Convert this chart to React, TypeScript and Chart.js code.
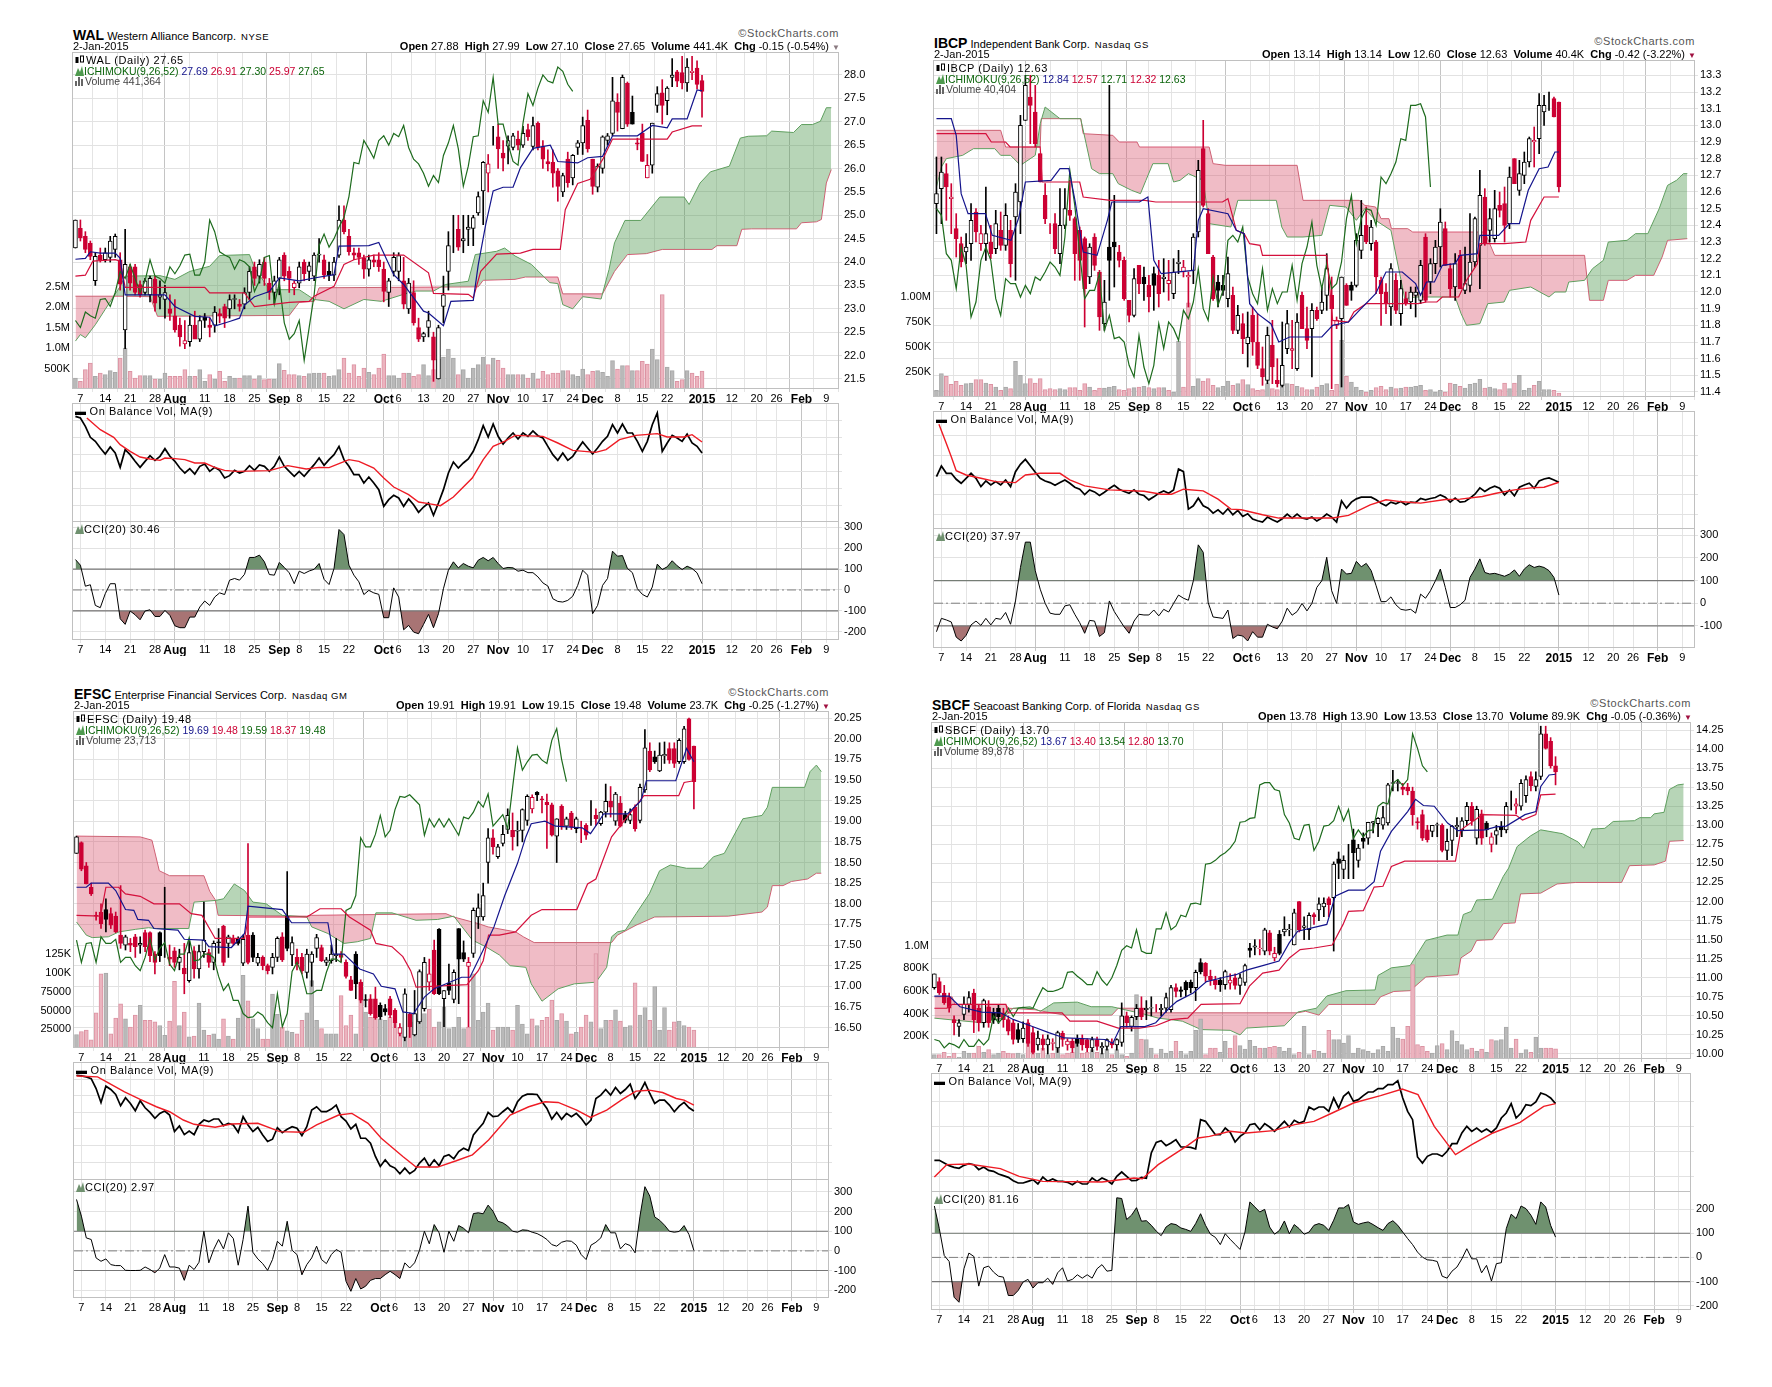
import { useEffect, useRef } from 'react';
import { Chart, registerables } from 'chart.js';

Chart.register(...registerables);

const FONT = '"Liberation Sans", Arial, sans-serif';

const dayTicks = [0, 5, 10, 15, 19, 25, 30, 35, 40, 44, 49, 54, 61, 64, 69, 74, 79, 84, 89, 94, 99, 103, 108, 113, 118, 125, 131, 136, 140, 145, 150];
const dayLabels = ['7', '14', '21', '28', 'Aug', '11', '18', '25', 'Sep', '8', '15', '22', 'Oct', '6', '13', '20', '27', 'Nov', '10', '17', '24', 'Dec', '8', '15', '22', '2015', '12', '20', '26', 'Feb', '9'];
const majorDays = [19, 40, 61, 84, 103, 125, 145];

// ohlc rows: first is 3 Jul 2014 (day -1), last is 2 Jan 2015 (day 125). Volume in thousands.
const walOhlc = [
  [24.3, 24.9, 24.3, 24.9], [24.72, 24.9, 24.45, 24.52], [24.55, 24.65, 24.2, 24.27], [24.4, 24.45, 24.05, 24.12], [23.6, 24.2, 23.5, 24.12], [24.15, 24.3, 24, 24.05], [24.05, 24.3, 24, 24.2], [24.1, 24.55, 24, 24.45], [24.27, 24.6, 24.1, 24.55], [24.05, 24.2, 23.4, 23.53],
  [22.55, 24.7, 22.15, 23.95], [23.9, 23.95, 23.4, 23.55], [23.9, 23.95, 23.3, 23.35], [23.52, 23.6, 23.25, 23.3], [23.35, 23.65, 23.3, 23.6], [23.3, 23.7, 23.15, 23.65], [23.63, 23.7, 22.95, 23.12], [23.25, 23.6, 23, 23.3], [23.2, 23.5, 22.8, 23.35], [23, 23.3, 22.75, 22.9],
  [22.85, 23.2, 22.5, 22.55], [22.65, 22.8, 22.2, 22.4], [22.25, 22.75, 22.15, 22.32], [22.3, 22.85, 22.2, 22.65], [22.65, 22.95, 22.4, 22.35], [22.35, 22.85, 22.3, 22.75], [22.82, 22.9, 22.6, 22.75], [22.65, 22.8, 22.4, 22.6], [22.65, 23.05, 22.5, 22.93], [22.9, 23, 22.7, 22.85],
  [23.05, 23.1, 22.6, 22.8], [23, 23.3, 22.8, 23.2], [23.2, 23.3, 23, 23.22], [23.1, 23.2, 22.95, 23.05], [23.1, 23.45, 23, 23.35], [23.35, 23.9, 23.2, 23.8], [23.9, 24, 23.5, 23.65], [23.7, 24.05, 23.55, 23.95], [24, 24.1, 23.5, 23.65], [23.55, 23.65, 23.2, 23.35],
  [23.35, 23.7, 23.1, 23.6], [23.65, 24.1, 23.3, 24.05], [24.15, 24.2, 23.6, 23.7], [23.8, 23.9, 23.35, 23.65], [23.45, 23.6, 23.3, 23.55], [23.55, 24, 23.45, 23.9], [24, 24.05, 23.6, 23.75], [23.8, 24, 23.6, 23.92], [23.7, 24.2, 23.6, 24.15], [24.15, 24.5, 24, 24.17],
  [24.05, 24.15, 23.65, 23.72], [23.8, 24, 23.6, 23.72], [23.72, 24.1, 23.6, 24], [24.15, 25.2, 24.1, 24.9], [24.9, 25.2, 24.6, 24.65], [24.55, 24.7, 24.15, 24.22], [24.2, 24.3, 24.05, 24.15], [24.2, 24.3, 23.95, 24.1], [24.08, 24.15, 23.65, 23.85], [23.85, 24.15, 23.7, 24.05],
  [24.05, 24.15, 23.9, 24], [24.05, 24.2, 23.8, 23.9], [23.85, 24, 23.15, 23.37], [23.35, 23.65, 23.05, 23.6], [23.8, 24.2, 23.7, 24.1], [23.8, 24.2, 23.6, 24.14], [23.6, 24.1, 23, 23.1], [23, 23.65, 22.9, 23.55], [23.35, 23.6, 22.65, 22.7], [22.6, 22.8, 22.3, 22.35],
  [22.4, 22.5, 22.3, 22.47], [22.6, 22.95, 22.4, 22.75], [22.4, 22.5, 21.45, 21.9], [21.5, 22.65, 21.5, 22.6], [23.05, 23.7, 22.7, 23.3], [23.8, 24.65, 23.4, 24.35], [24.6, 25, 24.2, 24.6], [24.7, 25, 24.25, 24.32], [24.45, 25, 24.2, 24.5], [24.7, 25, 24.35, 24.75],
  [24.72, 25, 24.35, 24.95], [25.05, 25.5, 25, 25.4], [25.52, 26.15, 24.8, 26.13], [25.9, 26.3, 25.5, 26.1], [26.6, 26.9, 26.5, 26.6], [26.68, 26.95, 26, 26.42], [26.33, 26.6, 25.95, 26.22], [26.48, 26.7, 26.1, 26.6], [26.45, 26.75, 26.4, 26.7], [26.63, 26.8, 26.4, 26.5],
  [26.5, 26.9, 26.45, 26.75], [26.83, 26.95, 26.6, 26.68], [26.47, 27.1, 26.4, 26.92], [26.97, 27, 26.4, 26.45], [26.47, 26.6, 26, 26.2], [26.15, 26.4, 25.95, 26.1], [26.13, 26.4, 25.6, 25.9], [25.95, 26, 25.3, 25.62], [25.5, 25.9, 25.4, 25.85], [26.2, 26.35, 25.6, 25.7],
  [25.8, 26.3, 25.65, 26.28], [26.45, 26.6, 26.3, 26.55], [26.55, 27.1, 26.3, 26.92], [27.03, 27.25, 26.35, 26.42], [26.2, 26.2, 25.45, 25.62], [25.6, 26.1, 25.5, 26.05], [26, 26.7, 25.9, 26.68], [26.6, 26.75, 26.5, 26.7], [26.75, 27.95, 26.7, 27.45], [27.42, 27.6, 26.8, 27.2],
  [26.85, 28, 26.85, 27.95], [27.82, 27.85, 26.9, 26.95], [27.2, 27.55, 26.95, 26.95], [26.55, 26.65, 26.4, 26.52], [26.75, 26.95, 26.15, 26.15], [25.8, 26.3, 25.8, 26.07], [26.07, 26.97, 25.9, 26.97], [27.35, 27.75, 27.2, 27.6], [27.62, 27.9, 26.95, 27.35], [27.45, 27.75, 27.15, 27.72],
  [27.95, 28.35, 27.75, 28], [28.07, 28.1, 27.75, 27.87], [28.05, 28.4, 27.7, 27.83], [27.83, 28.35, 27.65, 28.17], [28.05, 28.4, 27.9, 28.08], [28.15, 28.3, 27.7, 27.8], [27.88, 27.99, 27.1, 27.65],
];
const walVolume = [270, 188, 474, 637, 310, 392, 351, 450, 409, 760, 1000, 433, 270, 327, 327, 327, 245, 245, 392, 310, 310, 310, 474, 310, 310, 474, 188, 351, 245, 433, 188, 310, 270, 270, 327, 327, 245, 327, 229, 245, 245, 621, 457, 351, 351, 327, 310, 376, 392, 392, 392, 310, 327, 474, 760, 392, 597, 310, 515, 409, 351, 515, 858, 327, 327, 270, 392, 392, 310, 351, 597, 327, 474, 736, 785, 981, 760, 351, 474, 270, 515, 597, 785, 597, 760, 703, 515, 351, 351, 351, 351, 270, 392, 245, 433, 351, 392, 392, 450, 450, 351, 310, 490, 351, 433, 450, 409, 310, 694, 490, 572, 572, 450, 450, 678, 613, 981, 719, 2312, 539, 450, 188, 229, 450, 392, 310, 441];
const walTenkan = [[-1, 24.06], [1, 24.08], [2, 24.22], [4, 24.19], [7, 24.19], [8, 24.08], [9, 23.3], [17, 23.3], [19, 23.05], [23, 22.84], [26, 22.82], [27, 22.63], [30, 22.73], [32, 22.8], [33, 23.08], [35, 23.26], [38, 23.37], [40, 23.66], [44, 23.6], [47, 23.66], [51, 23.73], [52, 24.34], [58, 24.35], [60, 24.42], [61, 24.19], [63, 23.73], [65, 23.52], [69, 22.95], [70, 22.91], [73, 22.64], [74.5, 23.16], [79, 23.18], [80, 23.94], [81.5, 24.8], [83, 25.52], [85, 25.6], [87, 25.6], [88.5, 26.02], [91, 26.43], [94.5, 26.5], [96, 26.15], [100, 26.12], [102, 26.23], [105, 26.26], [107, 26.7], [112, 26.7], [115, 26.92], [118, 26.87], [119, 27.06], [122, 27.06], [124, 27.68], [125, 27.66]];
const walKijun = [[-1, 23.7], [1, 23.72], [2.5, 24.02], [7, 24.05], [8, 24.02], [9, 23.46], [25, 23.46], [26, 23.34], [33, 23.34], [35, 23.05], [42, 23.14], [46, 23.16], [47, 23.27], [51, 23.48], [53, 23.95], [55, 24.05], [59, 24.15], [65, 24.15], [70, 23.77], [71, 23.33], [78, 23.31], [79, 23.23], [80.5, 23.8], [83.7, 24.17], [88.5, 24.19], [91, 24.27], [96.5, 24.27], [97.5, 25.12], [100, 25.68], [102.5, 25.77], [105, 26.19], [107, 26.63], [118, 26.63], [119, 26.78], [123, 26.91], [125, 26.91]];
const walSenkouA = [[-1, 22.31], [0, 22.45], [1, 22.38], [3, 22.66], [5, 22.99], [8, 23.48], [9, 23.7], [16, 23.71], [19, 23.63], [22, 23.8], [26, 23.91], [28, 24.14], [34, 24.16], [35, 23.88], [38, 23.41], [44, 23.41], [47, 23.2], [50, 23.16], [53, 23], [57, 23.2], [60.5, 23.16], [65, 23.31], [67.5, 23.38], [71, 23.38], [73.4, 23.52], [78, 23.59], [79.4, 24.16], [83.7, 24.23], [85.3, 24.3], [87.4, 24.13], [90.7, 23.95], [94.4, 23.56], [96, 23.54], [97, 23.09], [99, 23], [101, 23.26], [104.7, 23.21], [106.3, 23.84], [107.4, 24.41], [109.5, 24.89], [112.7, 24.89], [116.5, 25.39], [121.4, 25.39], [122.4, 25.23], [124.6, 25.69], [126.7, 25.93], [130.5, 26.05], [132.7, 26.65], [134.3, 26.69], [138, 26.7], [139, 26.8], [143.4, 26.77], [145, 26.94], [147.2, 26.94], [148.8, 27.01], [150, 27.3], [151, 27.3]];
const walSenkouB = [[-1, 23.27], [9, 23.27], [14, 23.26], [15.5, 22.84], [42, 22.86], [44, 23.14], [47, 23.16], [48, 23.45], [80, 23.47], [81, 23.61], [87.4, 23.63], [89.5, 23.68], [96, 23.68], [97, 23.32], [105, 23.32], [107.4, 23.8], [110, 24.16], [113.8, 24.18], [117, 24.27], [127, 24.27], [128, 24.35], [132, 24.35], [133, 24.7], [135, 24.71], [144, 24.71], [145, 24.84], [148, 24.86], [149, 24.91], [150, 25.69], [151, 25.98]];
const walObv = [317, 312, 287, 254, 242, 222, 204, 225, 207, 164, 217, 202, 182, 164, 182, 199, 185, 197, 220, 197, 182, 162, 147, 160, 144, 167, 174, 152, 164, 155, 132, 139, 155, 147, 152, 169, 155, 171, 167, 152, 167, 195, 167, 152, 137, 152, 137, 155, 172, 192, 170, 187, 202, 227, 187, 167, 142, 142, 117, 135, 117, 97, 47, 67, 80, 72, 47, 69, 52, 29, 45, 57, 20, 57, 97, 147, 180, 162, 177, 189, 212, 247, 289, 255, 294, 257, 234, 252, 267, 249, 267, 257, 273, 259, 252, 227, 202, 185, 207, 185, 197, 219, 240, 222, 204, 222, 242, 257, 292, 267, 294, 267, 267, 242, 212, 242, 292, 327, 212, 237, 260, 252, 242, 264, 237, 227, 207];
const walObvMa = [[1.3, 312], [4, 277], [6.7, 254], [8, 232], [10, 212], [12, 195], [14, 189], [16, 185], [17, 192], [19, 190], [21, 187], [23, 177], [25, 177], [27, 164], [29, 155], [31.4, 152], [38, 154], [41.7, 169], [45.4, 159], [48, 164], [50, 163], [52, 175], [54, 187], [56, 182], [59, 162], [61, 132], [63, 105], [66, 82], [68, 60], [70, 55], [72.4, 49], [75, 75], [78.8, 132], [81, 187], [83, 227], [85.3, 242], [87.4, 260], [93, 257], [96, 237], [99, 215], [103.6, 209], [105.7, 217], [108.4, 247], [111.7, 260], [116, 265], [118, 255], [121.4, 255], [123, 262], [125, 240]];
const walCci = [146, 119, 18, 25, -74, -85, -18, 30, 30, -138, -165, -101, -119, -143, -101, -95, -127, -127, -98, -122, -172, -181, -181, -130, -130, -82, -53, -74, -34, -14, -22, 47, 55, 47, 75, 156, 156, 167, 135, 74, 71, 132, 108, 82, 30, 90, 79, 91, 99, 127, 51, 26, 103, 290, 266, 119, 71, 39, -22, -2, -14, -21, -133, -133, 10, -34, -191, -170, -202, -210, -165, -117, -181, -114, 6, 95, 135, 106, 127, 114, 106, 143, 156, 140, 156, 127, 103, 108, 106, 90, 95, 83, 83, 63, 34, 19, -42, -55, -58, -50, -30, 22, 95, 71, -114, -74, 22, 55, 186, 162, 165, 103, 83, 6, -21, -34, 14, 124, 98, 111, 140, 116, 98, 114, 103, 82, 30];
const walPriceTicks = [21.5, 22, 22.5, 23, 23.5, 24, 24.5, 25, 25.5, 26, 26.5, 27, 27.5, 28];
const walVolTicks = [500, 1000, 1500, 2000, 2500];
const walVolLabels = ['500K', '1.0M', '1.5M', '2.0M', '2.5M'];
const walObvGrid = [51, 102, 153, 204, 254, 305];
const walCciTicks = [-200, -100, 0, 100, 200, 300];

const ibcpOhlc = [
  [12.53, 12.81, 12.35, 12.59], [12.62, 12.81, 12.41, 12.72], [12.71, 12.77, 12.43, 12.63], [12.56, 12.65, 12.35, 12.57], [12.38, 12.47, 12.21, 12.32], [12.29, 12.33, 12.15, 12.18], [12.24, 12.35, 12.17, 12.27], [12.29, 12.53, 12.19, 12.43], [12.48, 12.5, 12.3, 12.36], [12.29, 12.4, 12.25, 12.35],
  [12.29, 12.63, 12.19, 12.35], [12.3, 12.4, 12.2, 12.23], [12.26, 12.49, 12.23, 12.41], [12.37, 12.48, 12.25, 12.28], [12.28, 12.53, 12.25, 12.46], [12.37, 12.43, 12.09, 12.17], [12.45, 12.65, 12.07, 12.6], [12.54, 13.06, 12.35, 13], [13.03, 13.3, 13.03, 13.24], [13.17, 13.3, 12.89, 13.12],
  [13.08, 13.24, 12.87, 12.89], [12.83, 12.83, 12.66, 12.66], [12.58, 12.65, 12.41, 12.44], [12.38, 12.41, 12.35, 12.38], [12.41, 12.47, 12.23, 12.26], [12.23, 12.62, 12.17, 12.4], [12.4, 12.62, 12.38, 12.5], [12.49, 12.67, 12.43, 12.46], [12.44, 12.45, 12.07, 12.23], [12.37, 12.39, 12.07, 12.19],
  [12.32, 12.33, 11.79, 12.02], [12.09, 12.29, 12.05, 12.27], [12.33, 12.35, 12.13, 12.16], [12.12, 12.13, 11.77, 11.85], [11.81, 12.07, 11.77, 11.94], [12.27, 13.24, 11.95, 12.19], [12.3, 12.58, 12.03, 12.27], [12.24, 12.28, 12.15, 12.19], [12.19, 12.21, 11.95, 11.96], [11.95, 11.95, 11.82, 11.86],
  [11.86, 12.14, 11.85, 12.08], [12.16, 12.16, 11.99, 12.05], [12.09, 12.15, 11.95, 12.05], [12.04, 12.1, 11.88, 11.97], [12.11, 12.15, 11.89, 12.04], [12.1, 12.19, 11.91, 11.99], [12.08, 12.2, 12, 12.09], [12.05, 12.19, 11.95, 12.07], [11.99, 12.2, 11.96, 12.12], [12.17, 12.25, 12.11, 12.18],
  [12.12, 12.19, 12.09, 12.15], [12.09, 12.12, 11.91, 12.1], [12.13, 12.35, 12.05, 12.33], [12.36, 12.79, 12.33, 12.73], [12.86, 13.03, 12.51, 12.52], [12.47, 12.5, 12.23, 12.23], [12.21, 12.22, 11.95, 11.96], [12.06, 12.1, 11.91, 12.01], [12.04, 12.1, 11.98, 12.01], [11.96, 12.21, 11.91, 12.11],
  [11.98, 12.03, 11.75, 11.77], [11.77, 11.92, 11.75, 11.86], [11.81, 11.87, 11.63, 11.72], [11.69, 11.88, 11.55, 11.73], [11.86, 11.91, 11.62, 11.7], [11.7, 11.87, 11.54, 11.56], [11.54, 11.67, 11.44, 11.49], [11.47, 11.79, 11.45, 11.74], [11.68, 11.83, 11.45, 11.55], [11.47, 11.6, 11.43, 11.45],
  [11.44, 11.82, 11.43, 11.56], [11.66, 11.89, 11.63, 11.81], [11.65, 11.83, 11.54, 11.66], [11.54, 11.87, 11.53, 11.82], [11.98, 12, 11.78, 11.78], [11.78, 11.91, 11.66, 11.71], [11.78, 11.93, 11.49, 11.89], [11.89, 11.91, 11.83, 11.84], [11.89, 12.03, 11.87, 11.94], [11.98, 12.23, 11.89, 12.14],
  [11.98, 12.09, 11.42, 11.9], [11.8, 11.85, 11.78, 11.83], [11.84, 12.09, 11.43, 12.09], [12.04, 12.05, 11.92, 11.92], [12.04, 12.06, 11.95, 12.01], [12.04, 12.35, 12.03, 12.31], [12.25, 12.55, 12.2, 12.34], [12.4, 12.51, 12.29, 12.3], [12.29, 12.43, 12.25, 12.39], [12.3, 12.31, 11.99, 12.09],
  [12.07, 12.09, 11.8, 11.99], [12, 12.05, 11.87, 11.93], [11.91, 12.17, 11.8, 12.14], [12.07, 12.11, 11.87, 11.89], [11.87, 12.07, 11.8, 12.02], [11.96, 12, 11.92, 11.93], [11.94, 12.03, 11.9, 12], [11.98, 12.03, 11.85, 12], [11.95, 12.19, 11.93, 12.16], [12.33, 12.35, 11.94, 11.95],
  [12.06, 12.2, 11.99, 12.17], [12.17, 12.31, 12.11, 12.27], [12.27, 12.5, 12.15, 12.42], [12.38, 12.42, 12.16, 12.16], [12.14, 12.17, 11.97, 12.02], [12.03, 12.23, 11.95, 12.17], [12.22, 12.25, 12.02, 12.02], [12.01, 12.27, 11.99, 12.05], [12.04, 12.47, 12, 12.18], [12.18, 12.45, 12.15, 12.44],
  [12.28, 12.73, 12.02, 12.58], [12.57, 12.62, 12.28, 12.29], [12.37, 12.5, 12.3, 12.44], [12.32, 12.61, 12.3, 12.5], [12.52, 12.6, 12.45, 12.49], [12.53, 12.63, 12.3, 12.4], [12.41, 12.75, 12.38, 12.69], [12.8, 12.8, 12.65, 12.65], [12.61, 12.79, 12.58, 12.71], [12.7, 12.84, 12.65, 12.78],
  [12.78, 12.93, 12.75, 12.92], [12.9, 12.99, 12.75, 12.91], [12.92, 13.19, 12.83, 13.12], [13.08, 13.18, 13, 13.12], [13.13, 13.2, 13.09, 13.13], [13.16, 13.17, 13.05, 13.05], [13.14, 13.14, 12.6, 12.63],
];
const ibcpVolume = [67, 233, 206, 127, 157, 117, 133, 140, 173, 173, 140, 127, 100, 67, 100, 83, 356, 216, 133, 183, 140, 183, 73, 83, 73, 83, 73, 93, 93, 67, 133, 100, 67, 90, 90, 100, 107, 73, 67, 83, 93, 100, 107, 93, 83, 93, 93, 67, 50, 556, 100, 942, 107, 183, 160, 183, 117, 93, 107, 160, 117, 133, 173, 123, 83, 67, 73, 133, 83, 73, 117, 133, 127, 107, 93, 73, 73, 100, 117, 133, 67, 127, 566, 206, 150, 100, 67, 50, 67, 93, 107, 73, 100, 83, 90, 100, 100, 107, 117, 67, 73, 50, 67, 50, 140, 127, 107, 90, 127, 140, 176, 90, 100, 83, 73, 140, 83, 140, 216, 67, 90, 117, 157, 73, 73, 67, 40];
const ibcpTenkan = [[-1, 13.04], [2, 13.04], [3, 12.94], [4, 12.59], [5.4, 12.47], [8.9, 12.47], [10.3, 12.34], [14.1, 12.31], [15.7, 12.45], [17, 12.66], [22.2, 12.67], [24, 12.74], [25.8, 12.74], [27.1, 12.54], [28.7, 12.24], [31.5, 12.22], [33.6, 12.43], [34.5, 12.54], [40.1, 12.54], [41.8, 12.57], [43, 12.19], [44.5, 12.11], [51, 12.13], [52, 12.43], [53, 12.5], [58, 12.47], [59.7, 12.37], [61.3, 12.35], [62.4, 11.93], [64, 11.87], [66.7, 11.81], [68.3, 11.7], [70.5, 11.73], [77, 11.73], [79.2, 11.8], [82.4, 11.82], [84.6, 11.89], [87.9, 11.99], [90, 12.12], [93.3, 12.12], [96, 12.05], [97, 11.98], [98.2, 12.06], [99.8, 12.06], [101.4, 12.16], [104, 12.17], [105, 12.22], [108.5, 12.23], [109, 12.34], [112.8, 12.34], [115, 12.41], [117, 12.41], [118.8, 12.61], [121, 12.74], [122.8, 12.75], [124.2, 12.84], [125, 12.84]];
const ibcpKijun = [[-1, 12.95], [9, 12.95], [10.1, 12.9], [13, 12.9], [13.9, 12.87], [20, 12.87], [20.4, 12.66], [28, 12.66], [28.7, 12.57], [34.2, 12.55], [41.2, 12.55], [43.4, 12.54], [56.9, 12.54], [58, 12.56], [59.7, 12.37], [61.3, 12.35], [62.4, 12.29], [64.5, 12.28], [65, 12.22], [78, 12.22], [79.2, 11.83], [82.4, 11.82], [83.5, 11.88], [86, 11.93], [96.5, 11.93], [98.2, 11.94], [100.3, 11.94], [101.4, 11.97], [104.7, 11.97], [106.3, 12.07], [108.5, 12.17], [109, 12.29], [113.4, 12.29], [114, 12.29], [118.3, 12.3], [119.3, 12.43], [122, 12.57], [125, 12.57]];
const ibcpSenkouA = [[-1, 12.63], [0, 12.75], [1, 12.8], [4.3, 12.82], [6.5, 12.86], [10.8, 12.86], [12, 12.82], [14, 12.82], [16, 12.76], [19, 12.82], [20, 13.01], [21, 13.11], [24, 13.04], [28.2, 13.04], [29.3, 12.89], [30.4, 12.74], [32, 12.71], [34.7, 12.71], [35.8, 12.65], [38.5, 12.61], [40.3, 12.59], [41.4, 12.67], [42.8, 12.77], [45.9, 12.77], [47, 12.66], [48.3, 12.67], [50, 12.71], [53, 12.67], [54.2, 12.41], [58.6, 12.39], [60, 12.55], [67.8, 12.55], [68.9, 12.39], [70, 12.33], [73.2, 12.33], [77, 12.34], [78.6, 12.52], [81.9, 12.51], [84, 12.43], [85.7, 12.5], [87.9, 12.43], [91, 12.37], [93.8, 11.96], [96, 11.97], [104, 11.97], [105.2, 11.87], [106.3, 11.8], [109, 11.81], [110.6, 11.93], [113.9, 11.94], [115, 12.01], [119.3, 12.03], [123, 11.97], [124.2, 12], [126.4, 12], [127, 12.06], [130.2, 12.07], [131.8, 12.14], [134, 12.19], [135, 12.3], [138.8, 12.31], [140.5, 12.35], [143, 12.35], [145.3, 12.5], [147, 12.64], [148.8, 12.67], [150.2, 12.71], [151, 12.71]];
const ibcpSenkouB = [[-1, 12.97], [12, 12.97], [13, 12.87], [20, 12.87], [20.2, 13.04], [28.2, 13.04], [28.7, 12.95], [34.7, 12.94], [36, 12.9], [39.6, 12.9], [40.1, 12.87], [54.2, 12.87], [55, 12.77], [57.5, 12.76], [72, 12.76], [73.2, 12.55], [84.6, 12.55], [85.7, 12.52], [87.9, 12.51], [89, 12.44], [90.6, 12.44], [91.1, 12.38], [94.4, 12.38], [95.4, 12.36], [110, 12.36], [112, 12.22], [130.2, 12.22], [130.7, 12.08], [131.2, 11.95], [134, 11.95], [135, 12.07], [138.8, 12.07], [140.5, 12.1], [144.2, 12.1], [145.9, 12.21], [147, 12.31], [151, 12.32]];
const ibcpObv = [158, 190, 168, 168, 150, 138, 153, 168, 153, 128, 145, 133, 143, 133, 148, 128, 173, 195, 210, 191, 171, 153, 145, 140, 132, 140, 148, 138, 126, 120, 104, 118, 112, 101, 111, 122, 132, 120, 113, 108, 118, 105, 101, 88, 97, 108, 115, 108, 118, 181, 173, 60, 70, 93, 70, 63, 48, 58, 45, 61, 43, 56, 38, 46, 30, 25, 21, 36, 28, 21, 31, 45, 33, 45, 33, 30, 36, 24, 33, 45, 36, 21, 85, 63, 81, 91, 96, 96, 96, 88, 78, 70, 81, 76, 83, 73, 81, 80, 92, 88, 92, 95, 103, 96, 81, 93, 81, 83, 93, 105, 124, 113, 123, 129, 123, 103, 118, 100, 126, 133, 138, 123, 145, 151, 154, 148, 141];
const ibcpObvMa = [[-0.5, 316], [1, 258], [2, 218], [3, 176], [5, 163], [8, 153], [11, 143], [15, 140], [17, 163], [20, 168], [24, 168], [26, 148], [29, 130], [34, 118], [41, 114], [44.5, 105], [46.6, 105], [49, 120], [53, 115], [56, 90], [58.6, 60], [60.7, 58], [65, 43], [68.3, 33], [79.2, 33], [82.4, 41], [86.8, 73], [90, 88], [93.3, 82], [97, 78], [102, 89], [105, 90], [109.5, 98], [112.3, 108], [116, 118], [119.3, 124], [122, 126], [125, 141]];
const ibcpCci = [-126, -67, -74, -83, -150, -167, -142, -96, -79, -98, -67, -96, -67, -71, -41, -93, 10, 158, 270, 270, 144, 62, 0, -44, -49, -49, -12, -7, -49, -86, -133, -76, -79, -147, -130, 10, -37, -71, -105, -133, -79, -49, -52, -52, -30, -56, -27, -39, -1, 36, 22, 13, 99, 258, 225, 3, -61, -64, -67, -30, -156, -141, -145, -167, -126, -150, -150, -93, -105, -113, -79, -22, -53, -37, -1, -34, -1, 70, 99, 203, 55, -1, 151, 129, 132, 185, 161, 176, 144, 77, 7, 7, 28, -7, -27, -31, -27, -44, 40, 22, 55, 99, 151, 70, -19, -19, -7, 13, 114, 151, 196, 136, 129, 132, 126, 119, 129, 147, 119, 151, 170, 158, 164, 158, 144, 114, 36];
const ibcpPriceTicks = [11.4, 11.5, 11.6, 11.7, 11.8, 11.9, 12, 12.1, 12.2, 12.3, 12.4, 12.5, 12.6, 12.7, 12.8, 12.9, 13, 13.1, 13.2, 13.3];
const ibcpVolTicks = [250, 500, 750, 1000];
const ibcpVolLabels = ['250K', '500K', '750K', '1.00M'];
const ibcpObvGrid = [45, 105, 162, 221, 281];
const ibcpCciTicks = [-100, 0, 100, 200, 300];

const efscOhlc = [
  [18.61, 18.82, 18.61, 18.81], [18.74, 18.75, 18.4, 18.42], [18.46, 18.5, 18.24, 18.24], [18.2, 18.25, 18.1, 18.12], [17.86, 17.9, 17.8, 17.85], [17.9, 18, 17.7, 17.76], [17.93, 18.06, 17.66, 17.81], [17.88, 17.95, 17.7, 17.74], [17.85, 17.9, 17.65, 17.66], [17.62, 18.22, 17.46, 17.52],
  [17.5, 17.62, 17.44, 17.6], [17.52, 17.58, 17.42, 17.5], [17.6, 17.63, 17.35, 17.48], [17.5, 17.6, 17.4, 17.52], [17.65, 17.68, 17.42, 17.48], [17.65, 17.66, 17.3, 17.37], [17.39, 17.42, 17.15, 17.29], [17.65, 17.66, 17.3, 17.37], [17.52, 18.2, 17.35, 17.52], [17.35, 17.5, 17.25, 17.33],
  [17.43, 17.47, 17.23, 17.29], [17.29, 17.45, 17.2, 17.35], [17.22, 17.52, 16.91, 17.15], [17.07, 17.55, 17.05, 17.41], [17.43, 17.48, 17.1, 17.21], [17.21, 17.5, 17.1, 17.42], [17.42, 18.02, 17.35, 17.56], [17.41, 17.45, 17.23, 17.29], [17.29, 17.55, 17.2, 17.52], [17.54, 17.7, 17.4, 17.53],
  [17.73, 17.74, 17.25, 17.29], [17.52, 17.62, 17.35, 17.6], [17.58, 17.62, 17.5, 17.52], [17.57, 17.6, 17.5, 17.52], [17.28, 17.62, 17.25, 17.57], [17.62, 18.73, 17.27, 17.29], [17.62, 17.65, 17.3, 17.35], [17.28, 17.4, 17.25, 17.35], [17.35, 17.37, 17.2, 17.25], [17.25, 17.27, 17.15, 17.19],
  [17.23, 17.4, 17.15, 17.35], [17.35, 17.6, 17.3, 17.58], [17.6, 17.65, 17.3, 17.32], [17.85, 18.39, 17.43, 17.46], [17.38, 17.6, 17.25, 17.53], [17.35, 17.45, 17.2, 17.27], [17.35, 17.4, 17.15, 17.19], [17.17, 17.45, 17.1, 17.39], [17.29, 17.42, 17, 17.39], [17.46, 17.63, 17.35, 17.59],
  [17.47, 17.5, 17.3, 17.31], [17.29, 17.35, 17.25, 17.32], [17.31, 17.5, 17.28, 17.39], [17.37, 17.58, 17.3, 17.39], [17.39, 17.42, 17.3, 17.35], [17.29, 17.32, 17.1, 17.12], [17.08, 17.12, 16.95, 16.95], [17.39, 17.42, 16.85, 17.03], [17.05, 17.08, 16.8, 16.83], [16.84, 16.9, 16.75, 16.83],
  [16.85, 16.9, 16.65, 16.67], [16.85, 16.99, 16.6, 16.62], [16.77, 16.8, 16.6, 16.63], [16.73, 16.78, 16.65, 16.69], [16.85, 16.88, 16.62, 16.65], [16.71, 16.73, 16.5, 16.56], [16.43, 16.55, 16.4, 16.5], [16.38, 16.97, 16.34, 16.91], [16.66, 16.68, 16.38, 16.51], [16.41, 16.95, 16.4, 16.67],
  [16.57, 17.2, 16.55, 17.18], [16.73, 17.35, 16.7, 17.29], [17.05, 17.33, 16.95, 17.15], [17.44, 17.56, 16.9, 16.91], [17.69, 17.7, 16.9, 16.91], [16.85, 16.95, 16.51, 16.95], [17.04, 17.27, 16.9, 16.95], [16.84, 17.2, 16.8, 17.17], [17.7, 17.7, 16.79, 17.33], [17.41, 17.55, 17.3, 17.33],
  [17.24, 17.35, 16.51, 17.29], [17.4, 17.95, 17.35, 17.92], [17.84, 18.12, 17.7, 17.95], [17.84, 18.25, 17.8, 18.1], [18.5, 18.91, 18.25, 18.8], [18.8, 18.9, 18.6, 18.69], [18.57, 18.72, 18.55, 18.69], [18.73, 18.95, 18.7, 18.84], [18.9, 19.15, 18.85, 19.07], [18.89, 19.1, 18.65, 18.81],
  [18.88, 19, 18.7, 18.89], [18.89, 19.15, 18.75, 19.14], [19.01, 19.32, 18.95, 19.3], [19.15, 19.32, 19.1, 19.29], [19.35, 19.36, 19.25, 19.32], [19.27, 19.3, 19.1, 19.26], [19.23, 19.33, 18.67, 19.2], [19.2, 19.22, 18.82, 18.83], [18.82, 19.03, 18.5, 19.03], [19.18, 19.2, 18.9, 18.93],
  [18.94, 19.05, 18.9, 19.03], [19.1, 19.12, 18.9, 18.93], [18.91, 19.05, 18.86, 19.03], [18.93, 19, 18.74, 18.93], [18.95, 18.97, 18.78, 18.83], [19.05, 19.25, 18.95, 19.05], [19.07, 19.15, 18.95, 19.03], [18.97, 19.12, 18.95, 19.11], [19.11, 19.45, 19.05, 19.24], [19.24, 19.42, 19.05, 19.17],
  [19, 19.35, 18.95, 19.33], [19.22, 19.3, 18.93, 18.94], [19.08, 19.12, 18.98, 19.01], [19.01, 19.15, 18.97, 19.08], [19.17, 19.2, 18.88, 18.91], [19.01, 19.45, 18.98, 19.41], [19.38, 20.11, 19.35, 19.89], [19.85, 19.95, 19.6, 19.62], [19.78, 19.85, 19.7, 19.72], [19.61, 19.95, 19.6, 19.8],
  [19.79, 19.96, 19.7, 19.81], [19.88, 19.95, 19.7, 19.74], [19.88, 19.95, 19.65, 19.7], [19.72, 20, 19.7, 19.98], [19.72, 20.15, 19.7, 20.12], [20.24, 20.25, 19.74, 19.75], [19.91, 19.91, 19.15, 19.48],
];
const efscVolume = [18, 22, 24, 11, 47, 99, 100, 19, 40, 59, 39, 28, 44, 57, 37, 37, 35, 30, 17, 36, 89, 30, 48, 15, 16, 60, 24, 17, 19, 12, 39, 16, 12, 40, 97, 63, 39, 26, 12, 12, 72, 45, 28, 23, 21, 19, 37, 47, 90, 37, 26, 19, 19, 19, 70, 30, 44, 19, 63, 48, 41, 41, 39, 37, 41, 35, 28, 28, 28, 35, 39, 46, 52, 28, 35, 55, 26, 28, 41, 26, 28, 99, 37, 48, 60, 24, 28, 28, 28, 24, 57, 32, 19, 39, 30, 37, 41, 64, 37, 46, 36, 19, 21, 28, 44, 35, 126, 26, 37, 37, 51, 36, 28, 30, 87, 44, 54, 37, 82, 24, 54, 24, 35, 36, 30, 28, 24];
const efscTenkan = [[-1, 18.2], [1, 18.2], [2, 18.25], [5.5, 18.25], [7, 18.16], [9, 17.93], [10.7, 17.92], [11.5, 17.81], [13.7, 17.8], [14.8, 17.7], [19.7, 17.68], [21, 17.57], [25, 17.56], [26, 17.48], [30.6, 17.47], [33.3, 17.64], [34, 17.97], [41, 17.93], [42.9, 17.77], [50.3, 17.77], [51.4, 17.39], [53.6, 17.39], [56.8, 17.21], [59.6, 17.15], [61.2, 17], [64, 16.97], [65.6, 16.69], [67.8, 16.67], [70, 16.87], [72, 16.97], [77.6, 17.11], [79.3, 17.11], [82, 17.44], [84.2, 17.72], [86.4, 18.1], [89, 18.49], [90.7, 18.81], [91.8, 18.97], [94.6, 19], [96.8, 18.94], [102.2, 18.92], [103.9, 18.85], [105.5, 18.99], [106.6, 19.09], [111.5, 19.09], [114.2, 19.25], [115.3, 19.49], [121.3, 19.49], [123.5, 19.88], [125, 19.72]];
const efscKijun = [[-1, 17.86], [3.9, 17.85], [5, 18.2], [7.6, 18.2], [9, 18.12], [12, 18.09], [14.8, 18], [20, 18], [22.4, 17.88], [24.6, 17.86], [27.3, 17.58], [33.3, 17.58], [34.1, 17.84], [46, 17.84], [48.7, 17.94], [53, 17.94], [54.7, 17.84], [59, 17.68], [60.1, 17.52], [63.4, 17.48], [65.6, 17.36], [67.2, 17.19], [68.3, 16.99], [78.7, 17.02], [81, 17.19], [82, 17.31], [83.1, 17.62], [85.3, 17.62], [88.6, 17.66], [91.8, 17.86], [94, 17.93], [101.1, 17.93], [103.3, 18.24], [105, 18.3], [108.2, 18.81], [114.8, 19.31], [121.9, 19.31], [123, 19.47], [125, 19.49]];
const efscSenkouA = [[-1, 17.78], [1, 17.62], [2.2, 17.59], [5.5, 17.6], [7.7, 17.66], [11, 17.69], [13.7, 17.71], [15.3, 17.7], [21.9, 17.7], [23, 18.02], [27.3, 18.04], [29, 18.06], [31.2, 18.24], [33.3, 18.16], [35, 18.02], [37.7, 18], [41, 17.86], [46, 17.84], [47, 17.72], [50.3, 17.64], [53.6, 17.52], [56.3, 17.54], [59, 17.58], [60.1, 17.89], [63.4, 17.89], [68.3, 17.8], [72.7, 17.81], [76, 17.85], [79.8, 17.56], [82.5, 17.48], [85.3, 17.38], [87.5, 17.25], [90.7, 17.23], [91.8, 17.03], [94, 16.82], [97.3, 16.97], [100.6, 17.03], [105, 17.05], [107.2, 17.23], [108.2, 17.6], [109.4, 17.66], [111, 17.68], [113.2, 17.88], [115.9, 18.12], [118, 18.4], [120.2, 18.47], [123.5, 18.43], [126.8, 18.43], [129, 18.57], [131.2, 18.61], [135, 19.03], [138.9, 19.07], [140, 19.17], [141, 19.41], [147.6, 19.41], [148.7, 19.6], [150, 19.68], [151, 19.6]];
const efscSenkouB = [[-1, 18.82], [12, 18.81], [14.4, 18.77], [15.9, 18.4], [18, 18.34], [25, 18.34], [26.2, 18.15], [27.3, 18.05], [27.9, 17.86], [46, 17.85], [47, 17.86], [74.4, 17.88], [76, 17.84], [81, 17.76], [83, 17.72], [88.6, 17.66], [90.2, 17.6], [92.4, 17.53], [108.2, 17.53], [109.4, 17.62], [113.2, 17.74], [117, 17.84], [132, 17.85], [138.9, 17.9], [140, 17.96], [141, 18.22], [143.2, 18.22], [144.9, 18.27], [148.2, 18.3], [150, 18.37], [151, 18.37]];
const efscObv = [316, 314, 311, 306, 276, 234, 283, 273, 258, 224, 248, 231, 209, 239, 218, 204, 186, 201, 208, 196, 146, 163, 137, 148, 137, 168, 181, 176, 184, 184, 164, 171, 166, 144, 191, 166, 146, 159, 136, 116, 123, 158, 143, 153, 161, 156, 134, 161, 211, 221, 206, 206, 214, 226, 191, 178, 154, 168, 126, 126, 111, 71, 41, 61, 43, 36, 19, 36, 19, 29, 51, 66, 41, 61, 43, 71, 76, 64, 86, 96, 89, 136, 154, 171, 204, 191, 193, 206, 218, 203, 236, 253, 259, 259, 258, 236, 216, 184, 204, 183, 201, 191, 201, 186, 166, 181, 246, 256, 273, 256, 279, 261, 273, 289, 246, 266, 294, 261, 231, 241, 241, 226, 206, 223, 234, 218, 208];
const efscObvMa = [[-1, 314], [3.3, 311], [5.5, 293], [8.8, 266], [12, 243], [15.3, 221], [18, 206], [20.8, 181], [23, 168], [27.3, 159], [30.6, 169], [36, 171], [40.5, 146], [45.4, 144], [48, 166], [52.5, 196], [55.2, 201], [58.5, 171], [61.2, 126], [65.6, 71], [68.3, 39], [72.7, 39], [76.5, 58], [79.8, 76], [83.1, 121], [87.5, 196], [91.3, 221], [94.6, 236], [97.3, 234], [101.1, 211], [103.9, 189], [107.2, 211], [110.4, 243], [113.2, 268], [115.9, 271], [118.6, 264], [121.4, 246], [123, 241], [125, 226]];
const efscCci = [262, 177, 66, 58, -36, -53, -41, -70, -75, -75, -99, -100, -100, -99, -82, -95, -112, -87, -19, -82, -82, -88, -150, -73, -95, -58, 100, -61, 7, 58, 10, 92, 63, -73, 58, 228, -7, -41, -65, -99, -44, 49, 24, 151, 3, -19, -122, -70, -36, 24, -44, -65, -19, 7, -7, -155, -206, -141, -194, -180, -150, -141, -141, -121, -104, -121, -141, -61, -87, -61, 3, 100, 36, 134, 92, -7, 100, 49, 129, 115, 92, 190, 194, 189, 233, 202, 151, 143, 126, 100, 95, 107, 105, 95, 88, 75, 58, 32, 24, 44, 51, 49, 29, -19, -44, 29, 44, 66, 134, 92, 92, 10, 37, 27, -10, 177, 327, 279, 173, 156, 131, 100, 95, 99, 129, 83, 2];
const efscPriceTicks = [16.5, 16.75, 17, 17.25, 17.5, 17.75, 18, 18.25, 18.5, 18.75, 19, 19.25, 19.5, 19.75, 20, 20.25];
const efscVolTicks = [25, 50, 75, 100, 125];
const efscVolLabels = ['25000', '50000', '75000', '100K', '125K'];
const efscObvGrid = [53, 104, 155, 204, 254, 303];
const efscCciTicks = [-200, -100, 0, 100, 200, 300];

const sbcfOhlc = [
  [10.87, 11.05, 10.85, 11.05], [10.95, 11, 10.78, 10.8], [10.8, 10.9, 10.65, 10.67], [10.74, 10.8, 10.55, 10.6], [10.45, 10.5, 10.25, 10.41], [10.36, 10.45, 10.23, 10.41], [10.52, 10.75, 10.45, 10.65], [10.65, 10.82, 10.55, 10.74], [10.8, 10.85, 10.28, 10.45], [10.6, 10.65, 10.3, 10.41],
  [10.41, 10.72, 10.35, 10.7], [10.62, 10.7, 10.35, 10.41], [10.54, 10.6, 10.4, 10.45], [10.6, 10.65, 10.4, 10.49], [10.54, 10.6, 10.35, 10.45], [10.45, 10.5, 10.25, 10.3], [10.41, 10.45, 10.13, 10.19], [10.32, 10.4, 10.15, 10.19], [10.2, 10.42, 10.15, 10.34], [10.41, 10.45, 10.1, 10.14],
  [10.28, 10.35, 10, 10.02], [10.12, 10.3, 10.05, 10.21], [10.2, 10.25, 10.05, 10.12], [10.12, 10.25, 10, 10.2], [10.14, 10.2, 10.05, 10.15], [10.08, 10.3, 10.02, 10.28], [10.27, 10.3, 10.1, 10.19], [10.12, 10.2, 10.05, 10.17], [10.17, 10.2, 10.02, 10.08], [10.2, 10.25, 10.1, 10.14],
  [10.2, 10.25, 10.05, 10.12], [10.19, 10.2, 10.03, 10.08], [10.08, 10.22, 10.03, 10.19], [10.19, 10.22, 10.05, 10.1], [10.08, 10.15, 10, 10.1], [10.1, 10.2, 10.05, 10.19], [10.15, 10.2, 10.08, 10.12], [10.12, 10.2, 10.05, 10.19], [10.15, 10.67, 10.1, 10.5], [10.5, 10.55, 10.35, 10.41],
  [10.36, 10.5, 10.3, 10.48], [10.49, 10.65, 10.45, 10.6], [10.6, 10.75, 10.45, 10.49], [10.58, 10.7, 10.45, 10.6], [10.6, 10.75, 10.5, 10.61], [10.6, 10.65, 10.55, 10.6], [10.58, 10.65, 10.5, 10.6], [10.6, 10.8, 10.55, 10.74], [10.58, 10.9, 10.55, 10.87], [10.87, 10.92, 10.75, 10.82],
  [10.84, 10.88, 10.75, 10.82], [10.94, 10.96, 10.75, 10.84], [10.94, 10.97, 10.8, 10.87], [10.87, 11.1, 10.7, 11.07], [11.2, 11.25, 11.05, 11.08], [11.19, 11.2, 10.95, 11.02], [11.02, 11.1, 10.9, 10.97], [10.97, 11.02, 10.85, 10.91], [10.97, 11, 10.82, 10.91], [10.91, 11.1, 10.85, 11.08],
  [10.93, 11.05, 10.85, 10.97], [11, 11.05, 10.85, 10.9], [10.9, 11.05, 10.78, 11], [10.94, 11.18, 10.9, 11.16], [11.39, 11.45, 11.27, 11.36], [11.4, 11.5, 11.3, 11.42], [11.38, 11.5, 11.3, 11.39], [11.35, 11.65, 11.3, 11.63], [11.59, 11.62, 11.3, 11.35], [11.26, 11.4, 11.22, 11.32],
  [11.57, 11.62, 11.3, 11.32], [11.6, 11.8, 11.55, 11.64], [11.63, 11.7, 11.55, 11.64], [11.43, 11.9, 11.43, 11.85], [12, 12, 11.6, 11.63], [11.66, 11.8, 11.5, 11.68], [11.63, 11.85, 11.5, 11.82], [11.83, 11.85, 11.7, 11.8], [11.89, 12.05, 11.75, 11.97], [11.93, 12.05, 11.8, 11.98],
  [12.04, 12.06, 11.8, 11.96], [12.05, 12.52, 11.35, 12.49], [12.56, 12.65, 12.3, 12.5], [12.42, 12.6, 12.3, 12.54], [12.6, 12.75, 12.3, 12.6], [12.81, 12.95, 12.3, 12.64], [12.54, 12.75, 12.45, 12.7], [12.83, 12.9, 12.7, 12.79], [12.83, 13.04, 12.75, 13.04], [13.03, 13.05, 12.9, 13.05],
  [13.02, 13.1, 12.85, 13.09], [13, 13.25, 12.95, 13.1], [13.03, 13.55, 13, 13.53], [13.55, 13.72, 13.45, 13.56], [13.55, 13.6, 13.45, 13.56], [13.5, 13.55, 13.4, 13.47], [13.5, 13.55, 13.4, 13.45], [13.45, 13.5, 13, 13.14], [13.05, 13.1, 12.95, 13.03], [13.14, 13.2, 12.8, 12.83],
  [12.94, 13, 12.78, 12.81], [12.92, 13, 12.85, 13], [13, 13.03, 12.85, 13.01], [13, 13.02, 12.65, 12.67], [12.67, 12.95, 12.55, 12.79], [12.8, 13, 12.6, 12.99], [12.98, 13.1, 12.85, 13], [12.94, 13.1, 12.85, 13.06], [13.06, 13.3, 13, 13.25], [13.25, 13.3, 13, 13.06],
  [12.83, 13.25, 12.75, 13.21], [13.15, 13.2, 12.75, 12.83], [13.03, 13.05, 12.85, 12.94], [12.75, 12.9, 12.65, 12.85], [12.87, 13, 12.75, 12.93], [12.98, 13.05, 12.85, 12.94], [12.94, 13.3, 12.9, 13.25], [13.3, 13.45, 13.2, 13.3], [13.25, 13.35, 13.15, 13.28], [13.25, 13.6, 13.2, 13.55],
  [13.39, 13.65, 13.3, 13.6], [13.64, 13.7, 13.45, 13.52], [13.51, 13.7, 13.45, 13.6], [13.64, 14.3, 13.6, 14.2], [14.2, 14.3, 14, 14.01], [14.1, 14.15, 13.75, 13.78], [13.78, 13.9, 13.53, 13.7],
];
const sbcfVolume = [38, 38, 59, 24, 53, 18, 68, 53, 53, 112, 59, 82, 38, 53, 68, 53, 47, 53, 38, 156, 68, 53, 97, 38, 53, 97, 38, 53, 59, 141, 53, 59, 82, 59, 53, 88, 38, 82, 38, 24, 53, 567, 176, 171, 97, 38, 88, 53, 68, 156, 68, 38, 68, 253, 353, 38, 97, 97, 59, 156, 97, 206, 118, 88, 165, 112, 97, 97, 103, 112, 103, 68, 97, 38, 59, 288, 38, 76, 68, 53, 253, 171, 171, 141, 206, 53, 97, 82, 68, 53, 82, 112, 68, 282, 185, 176, 288, 832, 126, 112, 68, 53, 118, 135, 82, 250, 156, 126, 82, 97, 68, 88, 59, 171, 162, 171, 282, 97, 176, 53, 82, 59, 194, 97, 97, 97, 90];
const sbcfTenkan = [[-1, 10.76], [2, 10.76], [4.2, 10.62], [8.6, 10.55], [12.4, 10.54], [15.1, 10.45], [18.9, 10.36], [22.2, 10.28], [25.4, 10.21], [33.6, 10.19], [35.2, 10.14], [36.8, 10.36], [41.7, 10.36], [43.9, 10.41], [46.6, 10.6], [48.2, 10.69], [51.5, 10.8], [54.2, 10.95], [58, 11.01], [60.2, 11.04], [62.3, 11.1], [65.6, 11.16], [68.9, 11.22], [71, 11.46], [72.7, 11.61], [78.6, 11.7], [80.3, 12.07], [83, 12.15], [86.2, 12.15], [88.2, 12.26], [89.5, 12.66], [91.7, 12.92], [95, 13.18], [96.6, 13.34], [98.2, 13.26], [100.4, 13.25], [103.1, 13.03], [105.2, 12.93], [110.7, 12.94], [112.9, 12.98], [115, 12.99], [118.8, 13.14], [121, 13.18], [122, 13.51], [123.7, 13.66], [125, 13.67]];
const sbcfKijun = [[-1, 10.6], [1.5, 10.6], [2.6, 10.65], [13.5, 10.65], [14, 10.54], [24.9, 10.54], [26.5, 10.43], [32, 10.43], [36.3, 10.34], [40.6, 10.34], [43.9, 10.37], [47, 10.45], [50.4, 10.47], [53.1, 10.65], [61, 10.66], [62.9, 10.89], [65.6, 11.06], [68.9, 11.1], [71, 11.26], [73.2, 11.37], [76, 11.39], [79.7, 11.43], [81.9, 11.7], [83, 11.87], [86, 11.88], [88.2, 12.19], [90, 12.2], [91.7, 12.46], [94.4, 12.53], [104.7, 12.53], [105.8, 12.94], [110.2, 13.14], [117, 13.13], [118.3, 13.07], [121, 13.14], [122, 13.4], [125, 13.41]];
const sbcfSenkouA = [[-1, 10.47], [3.7, 10.44], [8.6, 10.41], [12.9, 10.47], [15, 10.6], [18.4, 10.62], [20.5, 10.56], [23.2, 10.67], [28, 10.68], [30.8, 10.62], [35, 10.62], [41.7, 10.52], [44.4, 10.47], [47.1, 10.45], [49.3, 10.43], [53.1, 10.32], [59, 10.31], [61, 10.25], [62.3, 10.34], [70, 10.37], [72.7, 10.55], [76.5, 10.6], [78.6, 10.76], [82.5, 10.83], [88.4, 10.84], [89, 11.03], [91.7, 11.13], [95.5, 11.16], [98.7, 11.49], [103, 11.56], [105.2, 11.56], [106.3, 11.83], [107.9, 11.87], [109, 12.02], [112.2, 12.03], [114.4, 12.33], [115.5, 12.44], [117.2, 12.72], [119.9, 12.86], [122, 12.94], [126.4, 12.89], [129.6, 12.78], [130.7, 12.7], [132.4, 12.95], [135, 12.96], [136.7, 13.05], [141, 13.06], [142.1, 13.1], [144.3, 13.1], [145, 13.15], [147, 13.17], [148.1, 13.47], [149.8, 13.53], [151, 13.54]];
const sbcfSenkouB = [[-1, 10.75], [2.6, 10.75], [3.2, 10.65], [13.5, 10.65], [14, 10.6], [19.4, 10.58], [21, 10.56], [25.4, 10.51], [35, 10.51], [36.3, 10.6], [41.7, 10.6], [42.2, 10.54], [72.7, 10.54], [74.3, 10.56], [77, 10.51], [79, 10.65], [88.4, 10.65], [89.5, 10.75], [92.2, 10.82], [95.5, 10.83], [98.7, 11.01], [105.2, 11.04], [105.8, 11.26], [107.9, 11.35], [109, 11.49], [112.2, 11.5], [114.4, 11.71], [116.8, 11.72], [117.9, 12.1], [122, 12.11], [125.3, 12.23], [129.1, 12.25], [138.4, 12.25], [140, 12.47], [145, 12.48], [147.3, 12.53], [148.1, 12.79], [151, 12.8]];
const sbcfObv = [95, 95, 87, 79, 74, 71, 80, 85, 82, 67, 75, 65, 62, 54, 49, 44, 34, 27, 27, 32, 37, 24, 45, 32, 39, 32, 32, 29, 22, 32, 24, 24, 42, 32, 42, 35, 24, 47, 60, 47, 34, 35, 44, 41, 117, 149, 154, 139, 147, 157, 135, 135, 134, 129, 217, 212, 192, 172, 172, 192, 179, 150, 167, 177, 202, 205, 187, 205, 195, 182, 197, 212, 195, 215, 207, 212, 255, 247, 255, 255, 242, 282, 252, 287, 300, 272, 277, 289, 300, 300, 310, 310, 322, 322, 334, 282, 242, 217, 105, 87, 107, 114, 114, 107, 122, 145, 145, 177, 197, 182, 192, 180, 189, 179, 192, 222, 237, 265, 222, 237, 262, 259, 270, 297, 292, 282, 265];
const sbcfObvMa = [[-1, 45], [1.5, 82], [5.9, 84], [12.4, 70], [16.2, 47], [21, 32], [33, 30], [39.5, 42], [41.2, 40], [44.4, 82], [50.4, 140], [52.5, 162], [54.8, 167], [59, 182], [62.3, 177], [67.8, 184], [72.1, 202], [76, 212], [79.7, 237], [84, 267], [89.5, 289], [93.9, 309], [97.1, 292], [100.4, 197], [104.7, 112], [108, 142], [112.3, 177], [117.8, 209], [122.6, 257], [125, 265]];
const sbcfCci = [213, 119, 8, -17, -165, -186, -47, 18, 4, -119, -43, -36, -61, -78, -82, -158, -158, -137, -102, -91, -127, -105, -105, -86, -112, -64, -43, -98, -91, -72, -86, -72, -86, -47, -30, -57, -54, 247, 244, 157, 175, 206, 150, 152, 133, 109, 90, 126, 140, 136, 122, 116, 108, 140, 181, 133, 96, 83, 53, 98, 75, 54, 33, 105, 230, 209, 188, 199, 126, 96, 112, 151, 98, 136, 119, 96, 105, 133, 140, 133, 112, 154, 205, 205, 219, 147, 137, 143, 147, 136, 123, 112, 140, 152, 133, 105, 78, 53, 22, 1, -10, -12, -17, -78, -86, -57, -40, -6, 36, -6, -6, -64, -33, -98, -26, -22, 119, 179, 161, 213, 202, 175, 137, 230, 209, 133, 84];
const sbcfPriceTicks = [10, 10.25, 10.5, 10.75, 11, 11.25, 11.5, 11.75, 12, 12.25, 12.5, 12.75, 13, 13.25, 13.5, 13.75, 14, 14.25];
const sbcfVolTicks = [200, 400, 600, 800, 1000];
const sbcfVolLabels = ['200K', '400K', '600K', '800K', '1.0M'];
const sbcfObvGrid = [47, 122, 197, 272];
const sbcfCciTicks = [-200, -100, 0, 100, 200];

// keep the plot area exactly where the panel box is: no room for label overhang
function noOverhang(s: any) {
  s.paddingTop = 0;
  s.paddingBottom = 0;
  s.paddingLeft = 0;
  s.paddingRight = 0;
}

function xRange(p: any) {
  return [(p.left - p.x7) / p.dayWidth, (p.right - p.x7) / p.dayWidth];
}

function xScale(p: any, labels: boolean) {
  const [min, max] = xRange(p);
  return {
    type: 'linear', min, max, offset: false, bounds: 'data',
    afterBuildTicks: (s: any) => { s.ticks = dayTicks.map((value) => ({ value })); },
    afterFit: (s: any) => { s.height = labels ? 16 : 0; noOverhang(s); },
    grid: { color: (c: any) => (majorDays.includes(c.tick?.value) ? '#c4c4c4' : '#e4e4e4'), tickLength: labels ? 3 : 0, lineWidth: 1 },
    border: { display: false },
    ticks: {
      display: labels, autoSkip: false, maxRotation: 0, padding: 0, color: '#000',
      font: (c: any) => ({ family: FONT, size: majorDays.includes(c.tick?.value) ? 12 : 11, weight: majorDays.includes(c.tick?.value) ? 'bold' : 'normal' }),
      callback: (v: number) => dayLabels[dayTicks.indexOf(v)],
    },
  };
}

function yAxis(min: number, max: number, ticks: number[], label: (v: number) => string) {
  return {
    type: 'linear', position: 'right', min, max, bounds: 'data',
    afterBuildTicks: (s: any) => { s.ticks = ticks.map((value) => ({ value })); },
    afterFit: (s: any) => { s.width = 45; noOverhang(s); },
    grid: { color: '#e2e2e2', tickLength: 3 },
    border: { display: false },
    ticks: { autoSkip: false, padding: 2, color: '#000', font: { family: FONT, size: 11 }, callback: label },
  };
}

function baseOptions(scales: any, padLeft: number) {
  return {
    responsive: false,
    animation: false,
    devicePixelRatio: 1,
    layout: { padding: { left: padLeft } },
    plugins: { legend: { display: false }, tooltip: { enabled: false } },
    scales,
    elements: { line: { tension: 0 } },
  };
}

function priceConfig(p: any) {
  const bars = p.ohlc.map((r: number[], k: number) => {
    const prev = k > 0 ? p.ohlc[k - 1][3] : r[3];
    const col = r[3] < prev ? '#cc0033' : '#000000';
    return { col, fill: r[3] < r[0] ? col : '#ffffff', up: r[3] >= prev };
  });
  const chikou = p.ohlc.slice(26).map((r: number[], k: number) => [k - 1, r[3]]);
  return {
    data: {
      datasets: [
        { type: 'line', data: p.senkouA, borderColor: '#5f9f5f', borderWidth: 1, pointRadius: 0, order: 9, fill: { target: 1, above: 'rgba(76,150,76,0.4)', below: 'rgba(216,80,105,0.38)' } },
        { type: 'line', data: p.senkouB, borderColor: '#d9607a', borderWidth: 1, pointRadius: 0, order: 9, fill: false },
        { type: 'bar', yAxisID: 'v', data: p.volume.map((v: number, k: number) => ({ x: k - 1, y: [0, v] })), grouped: false, barThickness: 4, maxBarThickness: 4, borderWidth: 1, borderSkipped: false, backgroundColor: bars.map((b: any) => (b.up ? '#b9b9b9' : '#ecb4bf')), borderColor: bars.map((b: any) => (b.up ? '#a8a8a8' : '#dc93a3')), order: 7 },
        { type: 'bar', data: p.ohlc.map((r: number[], k: number) => ({ x: k - 1, y: [r[2], r[1]] })), grouped: false, barThickness: 1, maxBarThickness: 1, borderWidth: 0, backgroundColor: bars.map((b: any) => b.col), order: 5 },
        { type: 'bar', data: p.ohlc.map((r: number[], k: number) => ({ x: k - 1, y: [r[0], r[3]] })), grouped: false, barThickness: 4, maxBarThickness: 4, borderWidth: 1, borderSkipped: false, backgroundColor: bars.map((b: any) => b.fill), borderColor: bars.map((b: any) => b.col), order: 4 },
        { type: 'line', data: chikou, borderColor: '#1d6b1d', borderWidth: 1.2, pointRadius: 0, order: 3 },
        { type: 'line', data: p.kijun, borderColor: '#d4103c', borderWidth: 1.2, pointRadius: 0, order: 2 },
        { type: 'line', data: p.tenkan, borderColor: '#14148c', borderWidth: 1.2, pointRadius: 0, order: 1 },
      ],
    },
    options: baseOptions({
      x: xScale(p, true),
      y: yAxis(p.priceMin, p.priceMax, p.priceTicks, (v: number) => v.toFixed(p.priceDecimals)),
      v: {
        type: 'linear', position: 'left', min: 0, max: p.volMax, bounds: 'data',
        afterBuildTicks: (s: any) => { s.ticks = p.volTicks.map((value: number) => ({ value })); },
        afterFit: (s: any) => { s.width = 44; noOverhang(s); },
        grid: { display: false, drawTicks: false },
        border: { display: false },
        ticks: { autoSkip: false, padding: 3, color: '#000', font: { family: FONT, size: 11 }, callback: (v: number) => p.volLabels[p.volTicks.indexOf(v)] },
      },
    }, 0),
  };
}

function obvConfig(p: any) {
  return {
    data: {
      datasets: [
        { type: 'line', data: p.obvMa, borderColor: '#ee1c25', borderWidth: 1.4, pointRadius: 0, order: 1 },
        { type: 'line', data: p.obv.map((v: number, k: number) => [k - 1, v]), borderColor: '#000', borderWidth: 1.7, pointRadius: 0, order: 2 },
      ],
    },
    options: baseOptions({
      x: xScale(p, false),
      y: { ...yAxis(0, p.obvMax, p.obvGrid, () => ''), ticks: { display: false } },
    }, 44),
  };
}

function cciConfig(p: any) {
  const xr = xRange(p);
  const line = (level: number) => [[xr[0], level], [xr[1], level]];
  const cci = p.cci.map((v: number, k: number) => [k - 1, v]);
  return {
    data: {
      datasets: [
        { type: 'line', data: cci, borderColor: '#000', borderWidth: 1, pointRadius: 0, order: 1, fill: { target: { value: 100 }, above: '#6f916f', below: 'rgba(0,0,0,0)' } },
        { type: 'line', data: cci, borderWidth: 0, pointRadius: 0, order: 4, fill: { target: { value: -100 }, above: 'rgba(0,0,0,0)', below: '#a87474' } },
        { type: 'line', data: line(100), borderColor: '#777', borderWidth: 1.2, pointRadius: 0, order: 3 },
        { type: 'line', data: line(-100), borderColor: '#777', borderWidth: 1.2, pointRadius: 0, order: 3 },
        { type: 'line', data: line(0), borderColor: '#808080', borderWidth: 1, borderDash: [9, 3, 2, 3], pointRadius: 0, order: 3 },
      ],
    },
    options: baseOptions({
      x: xScale(p, true),
      y: yAxis(p.cciMin, p.cciMax, p.cciTicks, (v: number) => String(v)),
    }, 44),
  };
}

function Canvas({ left, top, width, height, config }: any) {
  const ref = useRef<HTMLCanvasElement>(null);
  useEffect(() => {
    if (!ref.current) return;
    const chart = new Chart(ref.current, config);
    return () => chart.destroy();
  }, []);
  return <canvas ref={ref} width={width} height={height} style={{ position: 'absolute', left, top, width, height }} />;
}

function Label({ x, y, right, children, style }: any) {
  const pos = right !== undefined ? { right: 1772 - right } : { left: x };
  return <div style={{ position: 'absolute', top: y - 7, height: 14, lineHeight: '14px', whiteSpace: 'nowrap', font: `11px ${FONT}`, ...pos, ...style }}>{children}</div>;
}

const CandleIcon = () => (
  <svg width="9" height="10" style={{ marginRight: 2, verticalAlign: -1 }}><rect x="0.5" y="2" width="3" height="6" fill="#000" /><rect x="5.5" y="1" width="3" height="6" fill="none" stroke="#000" /></svg>
);
const PeakIcon = ({ color }: any) => (
  <svg width="9" height="10" style={{ verticalAlign: -1 }}><path d="M0 10 L3 2 L5 6 L7 0 L9 10 Z" fill={color} /></svg>
);
const BarsIcon = () => (
  <svg width="9" height="10" style={{ marginRight: 1, verticalAlign: -1 }}><rect x="0" y="5" width="2" height="5" fill="#666" /><rect x="3" y="1" width="2" height="9" fill="#666" /><rect x="6" y="3" width="2" height="7" fill="#666" /></svg>
);

function Panel({ p }: any) {
  const { left, right, top, bottom, obvTop, divider, cciBottom } = p;
  const width = right - left;
  const box = (t: number, b: number) => ({ position: 'absolute' as const, left: left - 1, top: t - 1, width: width + 1, height: b - t + 1, border: '1.5px solid #c0c0c0', boxSizing: 'border-box' as const, pointerEvents: 'none' as const });
  const spaced = { letterSpacing: 0.55 };
  return (
    <>
      <Canvas left={left - 44} top={top} width={width + 89} height={bottom - top + 16} config={priceConfig(p)} />
      <Canvas left={left - 44} top={obvTop} width={width + 89} height={divider - obvTop} config={obvConfig(p)} />
      <Canvas left={left - 44} top={divider} width={width + 89} height={cciBottom - divider + 16} config={cciConfig(p)} />
      <div style={box(top, bottom)} />
      <div style={box(obvTop, divider)} />
      <div style={box(divider, cciBottom)} />
      <Label x={left} y={top - 19}>
        <b style={{ fontSize: 14 }}>{p.symbol}</b> {p.company} <span style={{ fontSize: 9.5, ...spaced, marginLeft: 2 }}>{p.exchange}</span>
      </Label>
      <Label right={right} y={top - 19} style={{ color: '#555', ...spaced }}>©StockCharts.com</Label>
      <Label x={left} y={top - 6}>2-Jan-2015</Label>
      <Label right={right + 1} y={top - 6}>
        <b>Open</b> {p.quote[0]} &nbsp;<b>High</b> {p.quote[1]} &nbsp;<b>Low</b> {p.quote[2]} &nbsp;<b>Close</b> {p.quote[3]} &nbsp;<b>Volume</b> {p.quote[4]} &nbsp;<b>Chg</b> {p.quote[5]} <span style={{ color: p.arrow, fontSize: 8 }}>▼</span>
      </Label>
      <Label x={left + 2} y={top + 8} style={spaced}><CandleIcon />{p.symbol} (Daily) {p.last}</Label>
      <Label x={left + 2} y={top + 18.5} style={{ fontSize: 10.5 }}>
        <PeakIcon color="#4e9a4e" /><span style={{ color: '#0a640a' }}>ICHIMOKU(9,26,52)</span>{' '}
        <span style={{ color: '#14148c' }}>{p.ichimoku[0]}</span> <span style={{ color: '#cc0033' }}>{p.ichimoku[1]}</span> <span style={{ color: '#0a640a' }}>{p.ichimoku[2]}</span> <span style={{ color: '#cc0033' }}>{p.ichimoku[3]}</span> <span style={{ color: '#0a640a' }}>{p.ichimoku[4]}</span>
      </Label>
      <Label x={left + 2} y={top + 29} style={{ fontSize: 10.5, color: '#444' }}><BarsIcon />Volume {p.volumeText}</Label>
      <Label x={left + 2} y={obvTop + 7.5} style={spaced}><span style={{ fontWeight: 'bold', marginRight: 3 }}>▬</span>On Balance Vol, MA(9)</Label>
      <Label x={left + 2} y={divider + 7.5} style={spaced}><PeakIcon color="#6f916f" />CCI(20) {p.cciText}</Label>
    </>
  );
}

const panels = [
  {
    symbol: 'WAL', company: 'Western Alliance Bancorp.', exchange: 'NYSE', last: '27.65', volumeText: '441,364', cciText: '30.46', arrow: '#8a7a80',
    quote: ['27.88', '27.99', '27.10', '27.65', '441.4K', '-0.15 (-0.54%)'], ichimoku: ['27.69', '26.91', '27.30', '25.97', '27.65'],
    left: 73, right: 839, top: 53, bottom: 389, obvTop: 404, divider: 522, cciBottom: 640, x7: 80.4, dayWidth: 4.973,
    priceMin: 21.286, priceMax: 28.47, priceTicks: walPriceTicks, priceDecimals: 1, volMax: 8235, volTicks: walVolTicks, volLabels: walVolLabels,
    obvMax: 354, obvGrid: walObvGrid, cciMin: -240, cciMax: 326, cciTicks: walCciTicks,
    ohlc: walOhlc, volume: walVolume, tenkan: walTenkan, kijun: walKijun, senkouA: walSenkouA, senkouB: walSenkouB, obv: walObv, obvMa: walObvMa, cci: walCci,
  },
  {
    symbol: 'IBCP', company: 'Independent Bank Corp.', exchange: 'Nasdaq GS', last: '12.63', volumeText: '40,404', cciText: '37.97', arrow: '#a01040',
    quote: ['13.14', '13.14', '12.60', '12.63', '40.4K', '-0.42 (-3.22%)'], ichimoku: ['12.84', '12.57', '12.71', '12.32', '12.63'],
    left: 934, right: 1695, top: 61, bottom: 397, obvTop: 412, divider: 529, cciBottom: 648, x7: 941.4, dayWidth: 4.94,
    priceMin: 11.37, priceMax: 13.386, priceTicks: ibcpPriceTicks, priceDecimals: 1, volMax: 3360, volTicks: ibcpVolTicks, volLabels: ibcpVolLabels,
    obvMax: 353, obvGrid: ibcpObvGrid, cciMin: -198, cciMax: 328, cciTicks: ibcpCciTicks,
    ohlc: ibcpOhlc, volume: ibcpVolume, tenkan: ibcpTenkan, kijun: ibcpKijun, senkouA: ibcpSenkouA, senkouB: ibcpSenkouB, obv: ibcpObv, obvMa: ibcpObvMa, cci: ibcpCci,
  },
  {
    symbol: 'EFSC', company: 'Enterprise Financial Services Corp.', exchange: 'Nasdaq GM', last: '19.48', volumeText: '23,713', cciText: '2.97', arrow: '#a01040',
    quote: ['19.91', '19.91', '19.15', '19.48', '23.7K', '-0.25 (-1.27%)'], ichimoku: ['19.69', '19.48', '19.59', '18.37', '19.48'],
    left: 74, right: 829, top: 712, bottom: 1048, obvTop: 1063, divider: 1180, cciBottom: 1298, x7: 81.4, dayWidth: 4.9,
    priceMin: 16.253, priceMax: 20.323, priceTicks: efscPriceTicks, priceDecimals: 2, volMax: 448, volTicks: efscVolTicks, volLabels: efscVolLabels,
    obvMax: 353, obvGrid: efscObvGrid, cciMin: -240, cciMax: 361, cciTicks: efscCciTicks,
    ohlc: efscOhlc, volume: efscVolume, tenkan: efscTenkan, kijun: efscKijun, senkouA: efscSenkouA, senkouB: efscSenkouB, obv: efscObv, obvMa: efscObvMa, cci: efscCci,
  },
  {
    symbol: 'SBCF', company: 'Seacoast Banking Corp. of Florida', exchange: 'Nasdaq GS', last: '13.70', volumeText: '89,878', cciText: '81.16', arrow: '#a01040',
    quote: ['13.78', '13.90', '13.53', '13.70', '89.9K', '-0.05 (-0.36%)'], ichimoku: ['13.67', '13.40', '13.54', '12.80', '13.70'],
    left: 932, right: 1691, top: 723, bottom: 1059, obvTop: 1074, divider: 1192, cciBottom: 1310, x7: 939.3, dayWidth: 4.93,
    priceMin: 9.934, priceMax: 14.342, priceTicks: sbcfPriceTicks, priceDecimals: 2, volMax: 2960, volTicks: sbcfVolTicks, volLabels: sbcfVolLabels,
    obvMax: 354, obvGrid: sbcfObvGrid, cciMin: -218, cciMax: 271, cciTicks: sbcfCciTicks,
    ohlc: sbcfOhlc, volume: sbcfVolume, tenkan: sbcfTenkan, kijun: sbcfKijun, senkouA: sbcfSenkouA, senkouB: sbcfSenkouB, obv: sbcfObv, obvMa: sbcfObvMa, cci: sbcfCci,
  },
];

export default function App() {
  return (
    <div style={{ position: 'absolute', left: 0, top: 0, width: 1772, height: 1387, background: '#fff', overflow: 'hidden' }}>
      {panels.map((p) => <Panel key={p.symbol} p={p} />)}
    </div>
  );
}
